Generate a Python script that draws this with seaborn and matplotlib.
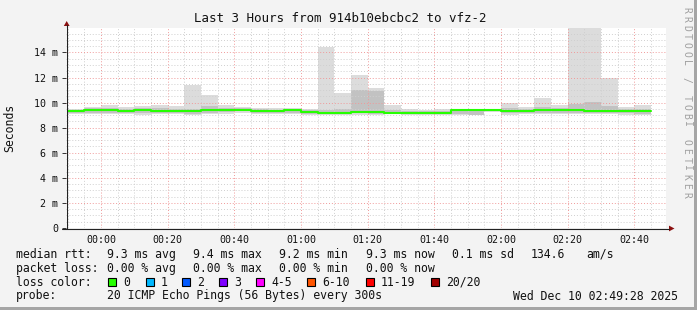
import numpy as np
import pandas as pd
import matplotlib
matplotlib.use("Agg")
import matplotlib.pyplot as plt
import matplotlib.dates as mdates
from matplotlib.patches import Rectangle, Polygon
from matplotlib.lines import Line2D
import seaborn as sns

# ---------------- data ----------------
title = "Last 3 Hours from 914b10ebcbc2 to vfz-2"
y_label = "Seconds"
watermark = "RRDTOOL / TOBI OETIKER"
range_start = "2025-12-09 23:49:28"
range_end = "2025-12-10 02:49:28"
first_bar = "2025-12-09 23:50"
step_minutes = 5

# median rtt per 5-minute step (ms)
median_ms = [9.31, 9.44, 9.40, 9.31, 9.44, 9.33, 9.31, 9.31, 9.44, 9.44,
             9.44, 9.35, 9.31, 9.39, 9.22, 9.15, 9.15, 9.27, 9.22, 9.20,
             9.18, 9.18, 9.18, 9.42, 9.42, 9.42, 9.31, 9.31, 9.44, 9.39,
             9.44, 9.36, 9.36, 9.31, 9.31]
min_ms = [9.07, 9.07, 9.07, 9.10, 8.99, 9.12, 9.12, 9.04, 9.07, 9.12,
          9.20, 9.12, 9.10, 9.10, 9.05, 9.05, 9.05, 9.05, 9.05, 9.10,
          9.00, 9.05, 9.05, 9.00, 8.99, 9.25, 9.04, 9.10, 9.10, 9.12,
          9.10, 9.12, 9.10, 9.04, 8.99]
max_ms = [9.52, 9.68, 9.84, 9.65, 9.73, 9.84, 9.73, 11.38, 10.58, 9.84,
          9.68, 9.60, 9.55, 9.60, 9.52, 14.40, 10.75, 12.17, 11.19, 9.79,
          9.52, 9.44, 9.52, 9.52, 9.52, 9.52, 10.00, 9.65, 10.37, 9.79,
          16.50, 16.50, 12.00, 9.65, 9.79]
q_lo_ms = [9.15, 9.20, 9.20, 9.20, 9.15, 9.20, 9.20, 9.12, 9.20, 9.25,
           9.30, 9.20, 9.20, 9.20, 9.12, 9.10, 9.10, 9.15, 9.12, 9.15,
           9.10, 9.10, 9.10, 9.10, 9.05, 9.30, 9.15, 9.20, 9.20, 9.20,
           9.20, 9.20, 9.20, 9.15, 9.10]
q_hi_ms = [9.45, 9.55, 9.60, 9.50, 9.55, 9.55, 9.50, 9.50, 9.75, 9.60,
           9.55, 9.50, 9.45, 9.50, 9.40, 9.40, 9.50, 10.98, 10.90, 9.45,
           9.35, 9.35, 9.35, 9.45, 9.45, 9.48, 9.60, 9.50, 9.65, 9.55,
           9.90, 10.05, 9.70, 9.50, 9.50]

y_ticks = [0, 2, 4, 6, 8, 10, 12, 14]
y_tick_labels = ["0", "2 m", "4 m", "6 m", "8 m", "10 m", "12 m", "14 m"]
y_max = 15.95

stat_rows = [
    ("median rtt:", ["9.3 ms avg", "9.4 ms max", "9.2 ms min", "9.3 ms now", "0.1 ms sd", "134.6", "am/s"]),
    ("packet loss:", ["0.00 % avg", "0.00 % max", "0.00 % min", "0.00 % now"]),
]
loss_labels = ["0", "1", "2", "3", "4-5", "6-10", "11-19", "20/20"]
loss_colors = ["#26ff00", "#00b8ff", "#0059ff", "#7e00ff", "#ff00ff", "#ff5500", "#ff0000", "#a00000"]
probe_text = "20 ICMP Echo Pings (56 Bytes) every 300s"
date_text = "Wed Dec 10 02:49:28 2025"

# ---------------- layout ----------------
W, H = 697, 310
MONO = "DejaVu Sans Mono"
sns.set_theme(style="white")
plt.rcParams["font.family"] = [MONO, "DejaVu Sans"]

def fx(px):
    return px / W

def fy(py):
    return 1 - py / H

fig = plt.figure(figsize=(W / 100, H / 100), dpi=100, facecolor="#f3f3f3")
ax = fig.add_axes([fx(66), fy(228), 600 / W, 200 / H])
ax.set_facecolor("white")

times = pd.date_range(first_bar, periods=len(median_ms), freq=f"{step_minutes}min")
width = step_minutes / 1440.0
tnum = mdates.date2num(times)

mn = np.array(min_ms); mx = np.array(max_ms)
ql = np.array(q_lo_ms); qh = np.array(q_hi_ms)
ax.bar(tnum, mx - mn, bottom=mn, width=width, align="edge", color="#dcdcdc", lw=0, zorder=1)
ax.bar(tnum, qh - ql, bottom=ql, width=width, align="edge", color="#c2c2c2", lw=0, zorder=1.2)

med_df = pd.DataFrame({
    "t": list(times) + [times[-1] + pd.Timedelta(minutes=step_minutes)],
    "rtt": median_ms + [median_ms[-1]],
})
sns.lineplot(data=med_df, x="t", y="rtt", ax=ax, drawstyle="steps-post",
             color=loss_colors[0], lw=1.5, estimator=None, zorder=3)

ax.set_xlim(pd.Timestamp(range_start), pd.Timestamp(range_end))
ax.set_ylim(0, y_max)
ax.set_xlabel(""); ax.set_ylabel("")

ax.xaxis.set_major_locator(mdates.MinuteLocator(byminute=[0, 20, 40]))
ax.xaxis.set_minor_locator(mdates.MinuteLocator(byminute=range(0, 60, 5)))
ax.xaxis.set_major_formatter(mdates.DateFormatter("%H:%M"))
ax.set_yticks(y_ticks)
ax.set_yticklabels(y_tick_labels)
ax.yaxis.set_minor_locator(matplotlib.ticker.MultipleLocator(0.5))

ax.set_axisbelow(False)
ax.grid(which="minor", color="#cfcfcf", linestyle=(0, (1, 2)), lw=0.7, zorder=2.5)
ax.grid(which="major", color="#f09a9a", linestyle=(0, (1, 2)), lw=0.7, zorder=2.6)

for s in ax.spines.values():
    s.set_visible(False)
ax.tick_params(axis="x", which="both", length=0, pad=5, labelsize=7.2, labelcolor="#111111")
ax.tick_params(axis="y", which="major", length=3, width=0.7, color="#333333", pad=2.5,
               labelsize=7.2, labelcolor="#111111", left=True)
ax.tick_params(axis="y", which="minor", length=0)
for lab in ax.get_xticklabels() + ax.get_yticklabels():
    lab.set_family(MONO)

# axis lines & arrows
fig.add_artist(Line2D([fx(66.5), fx(66.5)], [fy(229), fy(25)], color="#222222", lw=0.8))
fig.add_artist(Line2D([fx(62), fx(669)], [fy(228.5), fy(228.5)], color="#222222", lw=0.8))
fig.add_artist(Polygon([[fx(63.8), fy(26)], [fx(69.6), fy(26)], [fx(66.7), fy(21)]],
                       closed=True, color="#8b1010", lw=0))
fig.add_artist(Polygon([[fx(669), fy(225.6)], [fx(669), fy(231.4)], [fx(674.5), fy(228.5)]],
                       closed=True, color="#8b1010", lw=0))

# texts
fig.text(fx(340.5), fy(19), title, ha="center", va="center", fontsize=9, family=MONO, color="#111111")
fig.text(fx(10), fy(127.5), y_label, ha="center", va="center", rotation=90, fontsize=8.3,
         family=MONO, color="#111111")
for i, ch in enumerate(watermark):
    fig.text(fx(686.5), fy(10 + i * 8.8), ch, ha="center", va="center", rotation=270,
             fontsize=7.0, family=MONO, color="#a0a0a0")

LEG = 8.3
col_x = [107.3, 193.3, 279.3, 366, 451.7, 530.7, 586]
row_y = [254.3, 268.3, 282.3, 296]
for r, (head, items) in enumerate(stat_rows):
    fig.text(fx(16), fy(row_y[r]), head, ha="left", va="center", fontsize=LEG, family=MONO, color="#111111")
    for j, it in enumerate(items):
        fig.text(fx(col_x[j]), fy(row_y[r]), it, ha="left", va="center", fontsize=LEG,
                 family=MONO, color="#111111")

fig.text(fx(16), fy(row_y[2]), "loss color:", ha="left", va="center", fontsize=LEG, family=MONO, color="#111111")
box_x = [108.3, 145.7, 182.3, 219, 256, 307.3, 365.7, 430.7]
for bx, lab, colr in zip(box_x, loss_labels, loss_colors):
    fig.add_artist(Rectangle((fx(bx), fy(286.2)), 8 / W, 8 / H, facecolor=colr,
                             edgecolor="black", lw=0.8))
    fig.text(fx(bx + 15), fy(row_y[2]), lab, ha="left", va="center", fontsize=LEG,
             family=MONO, color="#111111")

fig.text(fx(16), fy(row_y[3]), "probe:", ha="left", va="center", fontsize=LEG, family=MONO, color="#111111")
fig.text(fx(107.3), fy(row_y[3]), probe_text, ha="left", va="center", fontsize=LEG, family=MONO, color="#111111")
fig.text(fx(513.3), fy(row_y[3]), date_text, ha="left", va="center", fontsize=LEG, family=MONO, color="#111111")

# frame shading
fig.add_artist(Rectangle((fx(694), 0), 3 / W, 1, facecolor="#a5a5a5", lw=0))
fig.add_artist(Rectangle((0, 0), 1, 3 / H, facecolor="#a5a5a5", lw=0))

fig.savefig("out.png", dpi=100, facecolor=fig.get_facecolor())
